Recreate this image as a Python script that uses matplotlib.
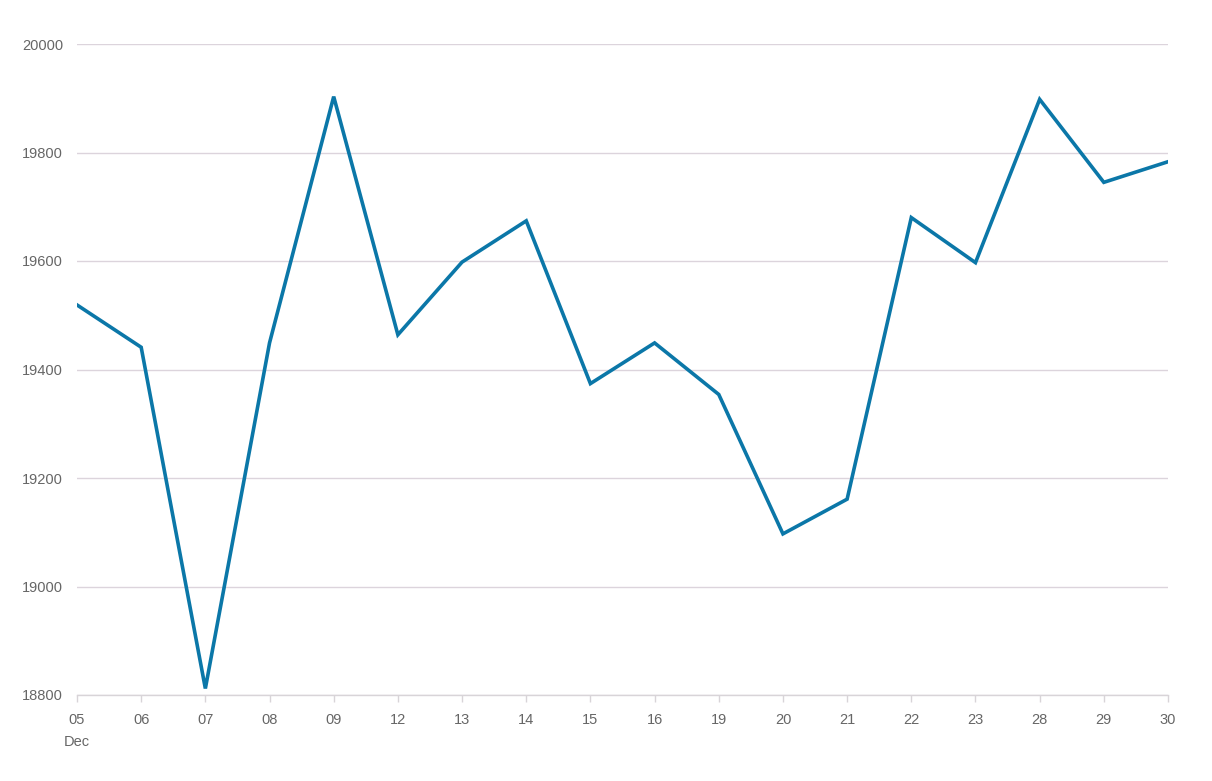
import matplotlib.pyplot as plt

plt.rcParams['font.family'] = ['Liberation Sans', 'DejaVu Sans']

days = ["05", "06", "07", "08", "09", "12", "13", "14", "15",
        "16", "19", "20", "21", "22", "23", "28", "29", "30"]
values = [19519, 19441, 18812, 19449, 19903, 19464, 19598, 19674, 19374,
          19449, 19354, 19097, 19161, 19680, 19597, 19898, 19745, 19783]
yticks = [18800, 19000, 19200, 19400, 19600, 19800, 20000]

fig = plt.figure(figsize=(12.12, 7.81), dpi=100)
ax = fig.add_axes([77 / 1212, 1 - 695 / 781, (1168 - 77) / 1212, (695 - 44) / 781])

x = list(range(len(days)))
ax.plot(x, values, color="#0b77a8", linewidth=2.6, solid_joinstyle="miter", zorder=3)

ax.set_xlim(0, len(days) - 1)
ax.set_ylim(18800, 20000)
ax.set_yticks(yticks)
ax.set_yticklabels([str(v) for v in yticks])
ax.set_xticks(x)
ax.set_xticklabels(days)

ax.grid(axis="y", color="#dcd4dc", linewidth=1)
ax.set_axisbelow(True)
for s in ["top", "right", "left"]:
    ax.spines[s].set_visible(False)
ax.spines["bottom"].set_color("#d8d4d8")
ax.spines["bottom"].set_linewidth(1)

ax.tick_params(axis="y", length=0, pad=10, labelsize=10.5, labelcolor="#666666")
ax.tick_params(axis="x", length=5, width=1, color="#d8d4d8", pad=8,
               labelsize=10.5, labelcolor="#666666")

ax.text(0, -0.062, "Dec", transform=ax.get_xaxis_transform(), ha="center",
        va="top", fontsize=10.5, color="#666666")

fig.savefig("out.png", dpi=100)
